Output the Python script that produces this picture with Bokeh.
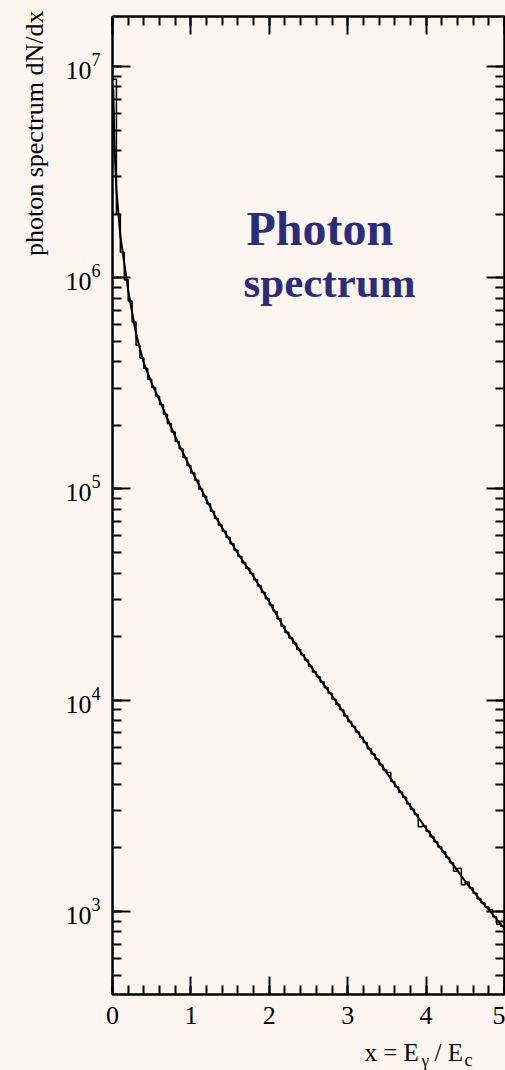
import numpy as np
from bokeh.plotting import figure
from bokeh.layouts import column
from bokeh.models import (Range1d, LogAxis, LinearAxis, Label, LogTicker, Title,
                          SingleIntervalTicker, CustomJSTickFormatter, ColumnDataSource)
from bokeh.embed import file_html
from bokeh.resources import INLINE
from bokeh.core.properties import value

BG = "#fdf6f0"
NAVY = "#2b2d7c"
SERIF = "Liberation Serif"

# ---- data ----
# histogram: 100 bins of width 0.05 on 0..5
bin_lo = 0.0
bin_hi = 5.0
hist_values = [
    8.71e6, 2.00e6, 1.32e6, 9.77e5, 7.76e5, 6.17e5, 4.79e5, 4.17e5, 3.72e5, 3.31e5,
    3.02e5, 2.75e5, 2.51e5, 2.26e5, 2.04e5, 1.86e5, 1.68e5, 1.55e5, 1.41e5, 1.29e5,
    1.19e5, 1.10e5, 1.00e5, 9.23e4, 8.51e4, 7.85e4, 7.24e4, 6.76e4, 6.31e4, 5.89e4,
    5.50e4, 5.13e4, 4.79e4, 4.47e4, 4.22e4, 3.98e4, 3.72e4, 3.47e4, 3.24e4, 3.02e4,
    2.82e4, 2.63e4, 2.43e4, 2.24e4, 2.09e4, 1.97e4, 1.86e4, 1.74e4, 1.64e4, 1.55e4,
    1.45e4, 1.36e4, 1.29e4, 1.22e4, 1.15e4, 1.08e4, 1.01e4, 9.55e3, 9.02e3, 8.41e3,
    7.94e3, 7.50e3, 7.08e3, 6.68e3, 6.31e3, 5.89e3, 5.56e3, 5.25e3, 4.95e3, 4.68e3,
    4.55e3, 4.12e3, 3.89e3, 3.67e3, 3.47e3, 3.24e3, 3.05e3, 2.88e3, 2.52e3, 2.54e3,
    2.40e3, 2.26e3, 2.14e3, 2.02e3, 1.91e3, 1.80e3, 1.70e3, 1.55e3, 1.60e3, 1.34e3,
    1.38e3, 1.29e3, 1.22e3, 1.15e3, 1.10e3, 1.05e3, 1.02e3, 944, 870, 851,
]

# smooth theoretical curve
curve_x = [0.01, 0.025, 0.05, 0.1, 0.2, 0.3, 0.4, 0.5, 0.6, 0.7, 0.8, 0.9,
           1.0, 1.1, 1.2, 1.3, 1.4, 1.5, 1.6, 1.7, 1.8, 1.9,
           2.0, 2.1, 2.2, 2.3, 2.4, 2.5, 2.6, 2.7, 2.8, 2.9,
           3.0, 3.1, 3.2, 3.3, 3.4, 3.5, 3.6, 3.7, 3.8, 3.9,
           4.0, 4.1, 4.2, 4.3, 4.4, 4.5, 4.6, 4.7, 4.8, 4.9, 5.0]
curve_y = [7.8e6, 4.2e6, 2.6e6, 1.58e6, 8.71e5, 5.43e5, 3.94e5, 3.16e5, 2.63e5, 2.15e5, 1.77e5, 1.48e5,
           1.24e5, 1.05e5, 8.87e4, 7.55e4, 6.53e4, 5.69e4, 4.95e4, 4.35e4, 3.85e4, 3.35e4,
           2.92e4, 2.51e4, 2.16e4, 1.92e4, 1.69e4, 1.50e4, 1.33e4, 1.18e4, 1.05e4, 9.29e3,
           8.18e3, 7.29e3, 6.50e3, 5.73e3, 5.11e3, 4.52e3, 4.01e3, 3.57e3, 3.15e3, 2.79e3,
           2.47e3, 2.20e3, 1.96e3, 1.75e3, 1.56e3, 1.39e3, 1.25e3, 1.12e3, 1.02e3, 918, 832]

x_min, x_max = 0.0, 5.0
y_min, y_max = 404.6, 1.724e7

title_lines = ["Photon", "spectrum"]
y_title = "photon spectrum dN/dx"
x_title_parts = ["x = E", "\u03b3", "/ E", "c"]

# ---- main figure ----
p = figure(width=505, height=1040, x_range=Range1d(x_min, x_max),
           y_range=Range1d(y_min, y_max), y_axis_type="log",
           output_backend="svg", toolbar_location=None,
           min_border_left=112, min_border_right=1, min_border_top=16,
           min_border_bottom=46,
           background_fill_color=BG, border_fill_color=BG,
           outline_line_color="black", outline_line_width=2)
p.grid.visible = False

p.below[0].ticker = SingleIntervalTicker(interval=1, num_minor_ticks=5)
p.add_layout(LinearAxis(ticker=SingleIntervalTicker(interval=1, num_minor_ticks=5)), "above")
p.add_layout(LogAxis(ticker=LogTicker(num_minor_ticks=10)), "right")


def style(ax, labels):
    ax.axis_line_width = 2
    ax.axis_line_color = "black"
    ax.major_tick_in = 18
    ax.major_tick_out = 0
    ax.minor_tick_in = 9
    ax.minor_tick_out = 0
    ax.major_tick_line_width = 2
    ax.minor_tick_line_width = 2
    ax.major_tick_line_color = "black"
    ax.minor_tick_line_color = "black"
    ax.major_label_text_font = SERIF
    ax.major_label_text_color = "black"
    if labels:
        ax.major_label_text_font_size = "26px"
        ax.major_label_standoff = 12
    else:
        ax.formatter = CustomJSTickFormatter(code="return ''")
        ax.major_label_text_font_size = "10px"
        ax.major_label_standoff = 0


style(p.below[0], True)
style(p.left[0], True)
style(p.above[0], False)
style(p.right[0], False)

edges = np.linspace(bin_lo, bin_hi, len(hist_values) + 1)
p.step(edges, list(hist_values) + [hist_values[-1]], mode="after",
       line_color="black", line_width=1.5)
p.line(curve_x, curve_y, line_color="black", line_width=2)

# title text
p.add_layout(Label(x=134, y=766, x_units="screen", y_units="screen",
                   text=title_lines[0], text_font=SERIF, text_font_style="bold",
                   text_font_size="48px", text_color=NAVY,
                   text_align="left", text_baseline="alphabetic"))
p.add_layout(Label(x=131, y=712, x_units="screen", y_units="screen",
                   text=title_lines[1], text_font=SERIF, text_font_style="bold",
                   text_font_size="43px", text_color=NAVY,
                   text_align="left", text_baseline="alphabetic"))

# y axis title (vertical, at top of the left side)
p.add_layout(Title(text=y_title, align="right", offset=-6, text_font=SERIF,
                   text_font_size="26px", text_font_style="normal",
                   text_color="black", standoff=28), "left")

# ---- strip below for the x axis title (with subscripts) ----
# its frame is aligned with the main frame (page x 112..504, y 1040..1070)
p2 = figure(width=505, height=30, x_range=Range1d(112, 504), y_range=Range1d(1070, 1040),
            output_backend="svg", toolbar_location=None,
            x_axis_location=None, y_axis_location=None,
            min_border=0, outline_line_color=None,
            background_fill_color=BG, border_fill_color=BG)
p2.grid.visible = False
src = ColumnDataSource(dict(
    x=[364, 421, 434, 464],
    y=[1052, 1060, 1052, 1059.5],
    t=x_title_parts,
    fs=["25px", "17px", "25px", "18px"],
))
p2.text(x="x", y="y", text="t", source=src, text_font=value(SERIF),
        text_font_size="fs", text_color="black", text_align="left",
        text_baseline="alphabetic")

layout = column(p, p2, spacing=0)

html = file_html(layout, INLINE)
html = html.replace("<head>", "<head><style>html,body{background:%s;}</style>" % BG, 1)
open("out.html", "w").write(html)
